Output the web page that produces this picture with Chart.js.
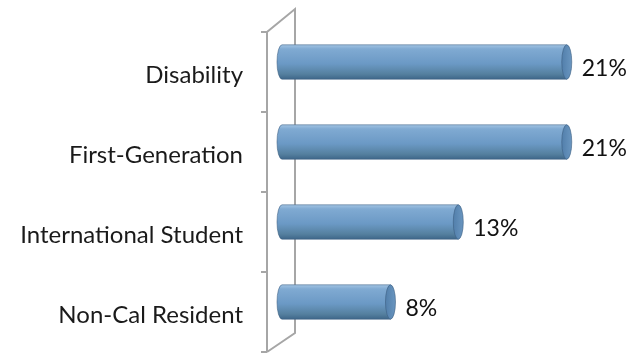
<!DOCTYPE html>
<html>
<head>
<meta charset="utf-8">
<script src="https://cdn.jsdelivr.net/npm/chart.js@4/dist/chart.umd.min.js"></script>
<style>
  html, body { margin: 0; padding: 0; background: #fff; }
  #wrap { width: 639px; height: 354px; }
</style>
</head>
<body>
<div id="wrap"><canvas id="chart"></canvas></div>
<script>
// Student groups and their share (percent)
const categories = ['Disability', 'First-Generation', 'International Student', 'Non-Cal Resident'];
const shares = [21, 21, 13, 8];
const valueLabels = ['21%', '21%', '13%', '8%'];

const LABEL_FONT = 'Lato, "Open Sans", sans-serif';
const WALL_SHIFT = 10; // the wall and labels sit a little lower than the bars

// Grey 3D wall with tick marks behind the bars
const wallPlugin = {
    id: 'wall',
    beforeDatasetsDraw(chart) {
        const ctx = chart.ctx;
        const y = chart.scales.y;
        const left = chart.chartArea.left;
        const band = Math.abs(y.getPixelForValue(1) - y.getPixelForValue(0));
        const top = y.getPixelForValue(0) - band / 2 + WALL_SHIFT;
        const bottom = y.getPixelForValue(categories.length - 1) + band / 2 + WALL_SHIFT;
        const front = left - 15, back = left + 13;
        ctx.save();
        ctx.strokeStyle = '#a6a6a6';
        ctx.lineWidth = 2;
        ctx.beginPath();
        ctx.moveTo(front, bottom);
        ctx.lineTo(front, top);
        ctx.lineTo(back, top - 23);
        ctx.lineTo(back, bottom - 19);
        ctx.lineTo(front, bottom);
        for (let i = 0; i <= categories.length; i++) {
            const ty = top + i * band;
            ctx.moveTo(front - 6, ty);
            ctx.lineTo(front, ty);
        }
        ctx.stroke();
        ctx.restore();
    }
};

// Draws each bar as a shaded cylinder plus its value label
const cylinderPlugin = {
    id: 'cylinders',
    afterDatasetsDraw(chart) {
        const ctx = chart.ctx;
        const meta = chart.getDatasetMeta(0);
        meta.data.forEach((bar, i) => {
            const h = bar.height;
            const top = bar.y - h / 2, bottom = bar.y + h / 2;
            const rx = 5;
            const base = bar.base, end = bar.x;

            const body = ctx.createLinearGradient(0, top, 0, bottom);
            body.addColorStop(0, '#a3c4e3');
            body.addColorStop(0.12, '#80aad2');
            body.addColorStop(0.55, '#6b99c5');
            body.addColorStop(0.85, '#55809f');
            body.addColorStop(1, '#3e6689');

            ctx.save();
            ctx.beginPath();
            ctx.moveTo(base, top);
            ctx.lineTo(end, top);
            ctx.lineTo(end, bottom);
            ctx.lineTo(base, bottom);
            ctx.ellipse(base, bar.y, rx, h / 2, 0, Math.PI / 2, Math.PI * 1.5);
            ctx.closePath();
            ctx.fillStyle = body;
            ctx.fill();
            ctx.strokeStyle = 'rgba(60,95,130,0.55)';
            ctx.lineWidth = 1;
            ctx.stroke();

            const cap = ctx.createLinearGradient(end - rx, 0, end + rx, 0);
            cap.addColorStop(0, '#527fab');
            cap.addColorStop(1, '#6a96c0');
            ctx.beginPath();
            ctx.ellipse(end, bar.y, rx, h / 2, 0, 0, Math.PI * 2);
            ctx.fillStyle = cap;
            ctx.fill();
            ctx.strokeStyle = 'rgba(60,95,130,0.6)';
            ctx.stroke();

            ctx.fillStyle = '#111';
            ctx.font = '23px ' + LABEL_FONT;
            ctx.textAlign = 'left';
            ctx.textBaseline = 'middle';
            ctx.fillText(valueLabels[i], end + 15, bar.y + 7);
            ctx.restore();
        });
    }
};

new Chart(document.getElementById('chart'), {
    type: 'bar',
    data: {
        labels: categories,
        datasets: [{
            data: shares,
            backgroundColor: 'rgba(0,0,0,0)',
            borderWidth: 0,
            categoryPercentage: 1,
            barPercentage: 0.43
        }]
    },
    options: {
        indexAxis: 'y',
        responsive: true,
        maintainAspectRatio: false,
        animation: false,
        layout: { padding: { left: 0, right: 18, top: 22, bottom: 12 } },
        plugins: {
            legend: { display: false },
            tooltip: { enabled: false }
        },
        scales: {
            x: {
                display: false,
                min: 0,
                max: 25
            },
            y: {
                grid: { display: false },
                border: { display: false },
                afterFit(scale) {
                    scale.width = 282;
                    scale.paddingTop = 0;
                    scale.paddingBottom = 0;
                },
                ticks: {
                    padding: 31,
                    labelOffset: WALL_SHIFT + 3,
                    color: '#1a1a1a',
                    font: { family: LABEL_FONT, size: 24 }
                }
            }
        }
    },
    plugins: [wallPlugin, cylinderPlugin]
});
</script>
</body>
</html>
